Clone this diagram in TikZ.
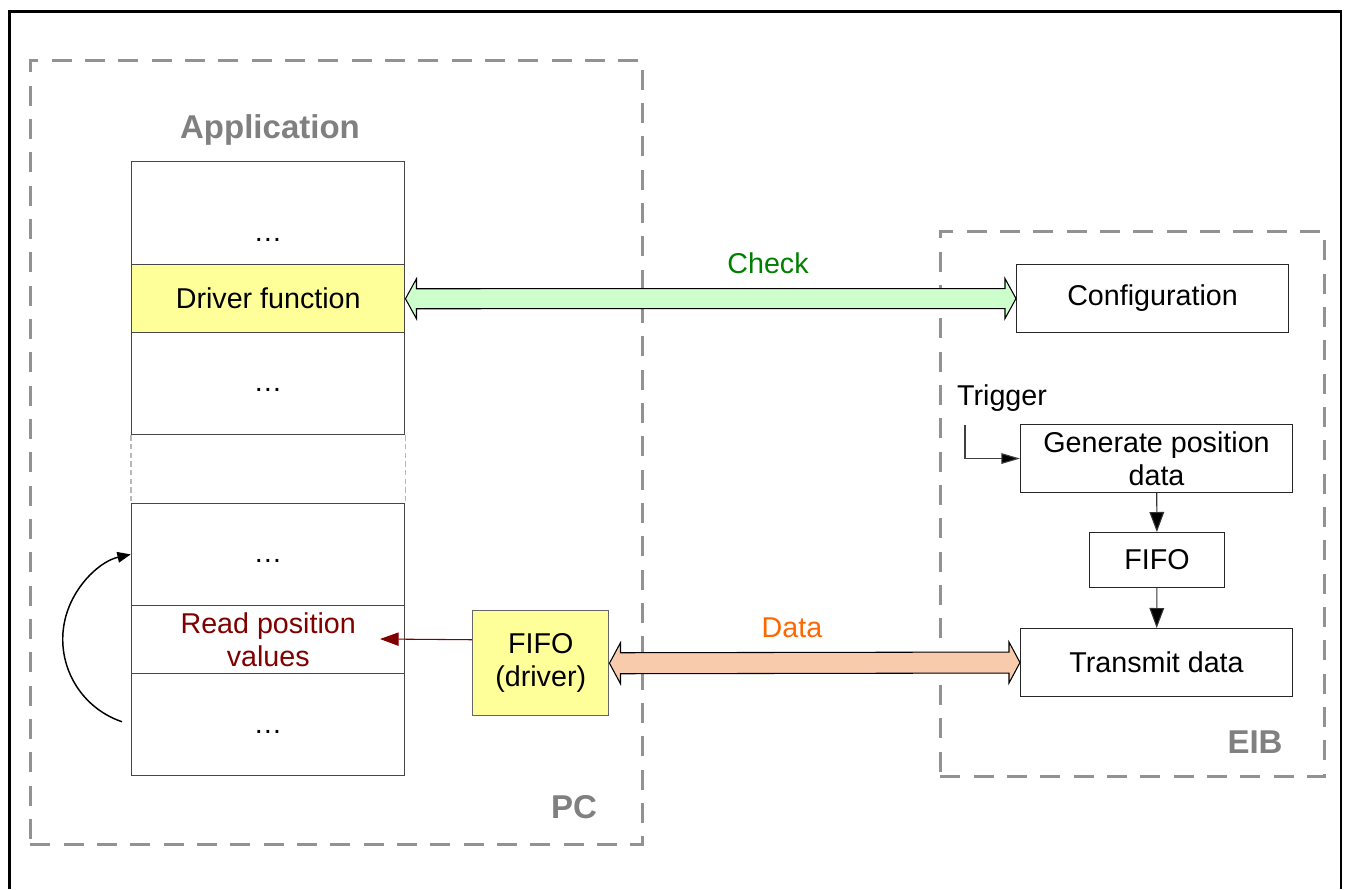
\documentclass[tikz,border=0pt]{standalone}
\usepackage{fontspec}
\setmainfont{Liberation Sans}
\usetikzlibrary{arrows.meta,calc}
\definecolor{drvyellow}{HTML}{FFFF99}
\definecolor{checkfill}{HTML}{CCFFCC}
\definecolor{datafill}{HTML}{F8CBAD}
\definecolor{checkgreen}{HTML}{008000}
\definecolor{dataorange}{HTML}{FF6600}
\definecolor{readred}{HTML}{800000}
\definecolor{labelgray}{HTML}{808080}
\definecolor{contgray}{HTML}{929292}
\begin{document}
\begin{tikzpicture}[x=0.75pt,y=-0.75pt,
  font=\fontsize{21.5}{24.75}\selectfont,
  sz/.style 2 args={minimum width=#1*0.75pt, minimum height=#2*0.75pt},
  stackbox/.style={draw=black!72, line width=1.1pt, inner sep=0pt, anchor=north west},
  ebox/.style={draw=black!85, line width=0.8pt, inner sep=0pt, anchor=north west},
  container/.style={draw=contgray, line width=2.2pt, dash pattern=on 15pt off 10pt, inner sep=0pt, anchor=north west},
  biglabel/.style={text=labelgray, font=\fontsize{24.75}{28}\selectfont\bfseries},
  gapline/.style={draw=black!28, line width=0.8pt, dash pattern=on 4pt off 2.5pt},
  blockarrow/.style={draw=black, line width=0.8pt, line join=miter},
  flowarrow/.style={draw=black!80, line width=0.8pt, -{Triangle[length=15pt,width=11pt,fill=black]}},
  trigarrow/.style={draw=black!75, line width=0.8pt, -{Triangle[length=14pt,width=8pt,fill=black]}},
  readarrow/.style={draw=readred, line width=0.8pt, -{Triangle[length=14pt,width=10pt,fill=readred]}},
  curvearrow/.style={draw=black, line width=1.1pt, -{Triangle[length=10pt,width=8pt]}}
]
\useasboundingbox (0,0) rectangle (1349,889);

% outer frame
\draw[line width=2.2pt] (9.5,889) -- (9.5,11.5) -- (1341,11.5) -- (1341,889);

% containers
\node[container, sz={612}{784}] (pcbox) at (29,59) {};
\node[container, sz={384}{545}] (eibbox) at (939,230) {};

% labels
\node[biglabel] (app) at (270,130) {Application};
\node[biglabel] (pc) at (574,807) {PC};
\node[biglabel] (eib) at (1255,742) {EIB};

% application stack
\node[stackbox, sz={273}{103}] (b1) at (131,161) {};
\node (d1) at (268,240) {…};
\node[stackbox, fill=drvyellow, sz={273}{68}] (b2) at (131,264) {Driver function};
\node[stackbox, sz={273}{102}] (b3) at (131,332) {};
\node (d3) at (268,390) {…};
\node[stackbox, sz={273}{102}] (b4) at (131,503) {};
\node (d4) at (268,561) {…};
\node[stackbox, sz={273}{68}, align=center, text=readred] (b5) at (131,605) {Read position\\values};
\node[stackbox, sz={273}{102}] (b6) at (131,673) {};
\node (d6) at (268,732) {…};
\draw[gapline] (b3.south west) -- (b4.north west);
\draw[gapline] (b3.south east) -- (b4.north east);

% FIFO driver
\node[stackbox, fill=drvyellow, sz={136}{105}, align=center, draw=black!60] (fifod) at (472,610) {FIFO\\(driver)};

% EIB side
\node[ebox, sz={272}{68}] (conf) at (1016,264) {Configuration};
\node (trig) at (1002,398) {Trigger};
\node[ebox, sz={272}{68}, align=center] (gen) at (1020,424) {Generate position\\data};
\node[ebox, sz={135}{55}] (fifo) at (1089,532) {FIFO};
\node[ebox, sz={272}{68}] (trans) at (1020,628) {Transmit data};

% arrow labels
\node[text=checkgreen] (check) at (768,263) {Check};
\node[text=dataorange] (data) at (792,628) {Data};

% Check block arrow
\draw[blockarrow, fill=checkfill] (b2.east) -- ++(11,-20) -- ++(0,10)
  -- ($(conf.west)+(-11,-10)$) -- ++(0,-10) -- (conf.west) -- ++(-11,20) -- ++(0,-10)
  -- ($(b2.east)+(11,10)$) -- ++(0,10) -- cycle;

% Data block arrow
\draw[blockarrow, fill=datafill] (fifod.east) -- ++(11,-20.5) -- ++(0,10)
  -- ($(trans.west)+(-11,-10.5)$) -- ++(0,-10) -- (trans.west) -- ++(-11,20.5) -- ++(0,-10)
  -- ($(fifod.east)+(11,10.5)$) -- ++(0,10) -- cycle;

% read arrow
\coordinate (readtip) at (380,639);
\draw[readarrow] (fifod.west |- b5.center) -- (readtip);

% trigger arrow
\coordinate (trigstart) at (965,425);
\draw[trigarrow] (trigstart) |- (gen.west);

% flow arrows
\draw[flowarrow] (gen) -- (fifo);
\draw[flowarrow] (fifo) -- (trans);

% loop arrow
\draw[curvearrow] ($(b6.west)+(-9,-3)$) arc[start angle=108.6, end angle=257.4, radius=87];
\end{tikzpicture}
\end{document}
